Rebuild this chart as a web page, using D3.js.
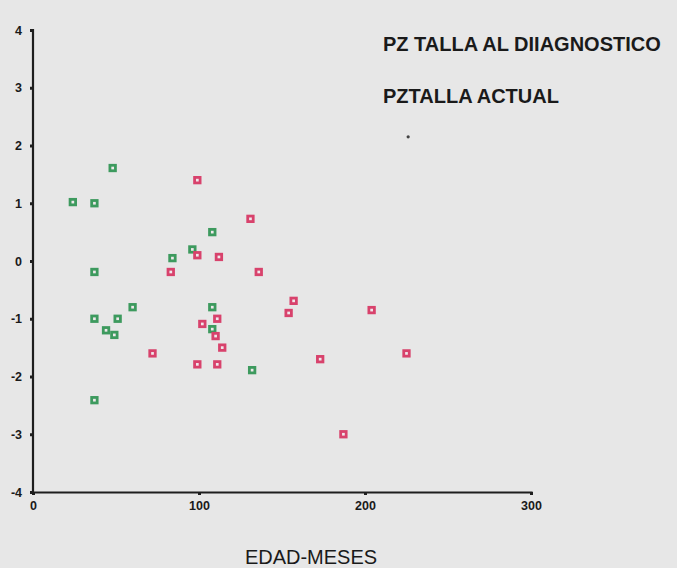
<!DOCTYPE html>
<html>
<head>
<meta charset="utf-8">
<script src="https://cdn.jsdelivr.net/npm/d3@7/dist/d3.min.js"></script>
<style>
  html, body { margin: 0; padding: 0; background: #e7e7e7; }
  svg { display: block; }
</style>
</head>
<body>
<svg id="chart" width="677" height="568"></svg>
<script>
// ---- data ----
const seriesNames = ["PZ TALLA AL DIIAGNOSTICO", "PZTALLA ACTUAL"];
const xTicks = [0, 100, 200, 300];
const yTicks = [-4, -3, -2, -1, 0, 1, 2, 3, 4];
const xLabel = "EDAD-MESES";

// PZ talla al diagnóstico (green)
const diagEdad = [48, 24, 37, 108, 96, 84, 37, 60, 108, 37, 51, 44, 49, 108, 132, 37];
const diagPz   = [1.61, 1.02, 1.0, 0.50, 0.20, 0.05, -0.19, -0.80, -0.80, -1.0, -1.0, -1.20, -1.28, -1.18, -1.89, -2.41];

// PZ talla actual (red)
const actEdad = [99, 131, 99, 112, 83, 136, 157, 154, 102, 111, 110, 114, 72, 99, 111, 173, 204, 225, 187];
const actPz   = [1.40, 0.73, 0.10, 0.07, -0.19, -0.19, -0.69, -0.90, -1.09, -1.0, -1.30, -1.50, -1.60, -1.79, -1.79, -1.70, -0.85, -1.60, -3.0];

// stray dark dot in the original
const strayEdad = [226];
const strayPz = [2.15];

// ---- drawing ----
const svg = d3.select("#chart");
const x = d3.scaleLinear().domain([0, 300]).range([33, 531]);
const y = d3.scaleLinear().domain([-4, 4]).range([492, 30]);

const fmt = d => String(d);
const xAxis = d3.axisBottom(x).tickValues(xTicks).tickFormat(fmt).tickSize(3).tickPadding(6);
const yAxis = d3.axisLeft(y).tickValues(yTicks).tickFormat(fmt).tickSize(3).tickPadding(8);

const gx = svg.append("g").attr("transform", "translate(0,492)").call(xAxis);
const gy = svg.append("g").attr("transform", "translate(33,0)").call(yAxis);

[gx, gy].forEach(g => {
  g.select(".domain").attr("stroke", "#1e1e1e").attr("stroke-width", 2.2);
  g.selectAll(".tick line").attr("stroke", "#1e1e1e").attr("stroke-width", 3);
  g.selectAll(".tick text")
    .attr("fill", "#1a1a1a")
    .style("font-family", "'Liberation Sans', Arial, sans-serif")
    .style("font-weight", "bold")
    .style("font-size", "12.5px");
});
gy.select(".domain").attr("d", "M0,492V30h-1");

function drawSeries(xs, ys, color) {
  const data = xs.map((v, i) => ({ x: v, y: ys[i] }));
  svg.append("g").selectAll("rect").data(data).enter().append("rect")
    .attr("x", d => x(d.x) - 2.75)
    .attr("y", d => y(d.y) - 2.75)
    .attr("width", 5.5)
    .attr("height", 5.5)
    .attr("fill", "#f0e8ec")
    .attr("stroke", color)
    .attr("stroke-width", 2.8);
}
drawSeries(diagEdad, diagPz, "#3d9a5e");
drawSeries(actEdad, actPz, "#d8426c");

svg.append("g").selectAll("circle")
  .data(strayEdad.map((v, i) => ({ x: v, y: strayPz[i] })))
  .enter().append("circle")
  .attr("cx", d => x(d.x)).attr("cy", d => y(d.y)).attr("r", 1.6).attr("fill", "#444");

// legend text
const legendY = [51, 103];
svg.append("g").selectAll("text").data(seriesNames).enter().append("text")
  .attr("x", 383)
  .attr("y", (d, i) => legendY[i])
  .attr("fill", "#1a1a1a")
  .style("font-family", "'Liberation Sans', Arial, sans-serif")
  .style("font-weight", "bold")
  .style("font-size", "20px")
  .text(d => d);

// x axis label
svg.append("text")
  .attr("x", 311)
  .attr("y", 564)
  .attr("text-anchor", "middle")
  .attr("fill", "#1a1a1a")
  .style("font-family", "'Liberation Sans', Arial, sans-serif")
  .style("font-size", "20px")
  .text(xLabel);
</script>
</body>
</html>
